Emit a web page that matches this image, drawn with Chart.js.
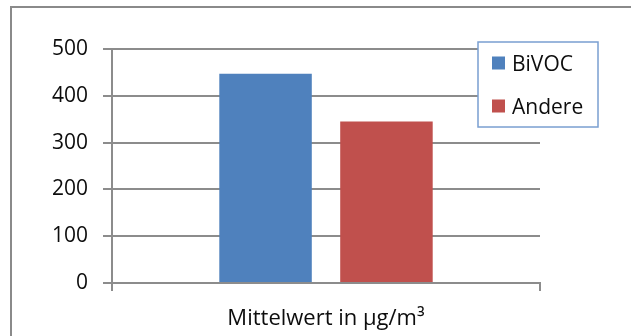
<!DOCTYPE html>
<html>
<head>
<meta charset="utf-8">
<script src="https://cdn.jsdelivr.net/npm/chart.js@4.4.1/dist/chart.umd.min.js"></script>
<style>
  html, body { margin: 0; padding: 0; background: #ffffff; }
  #wrap { position: relative; width: 631px; height: 336px; overflow: hidden; }
  canvas { display: block; }
</style>
</head>
<body>
<div id="wrap"><canvas id="c" width="631" height="336"></canvas></div>
<script>
// Mean concentrations (µg/m³)
const categories = ['Mittelwert in µg/m³'];
const seriesNames = ['BiVOC', 'Andere'];
const bivocValues = [447];
const andereValues = [345];
const yTicks = [0, 100, 200, 300, 400, 500];

const FONT = '"Open Sans", Lato, sans-serif';
const FONT_SIZE = 21;
const TEXT = '#0d0d0d';
const GRID = '#8c8c8c';

// Frame around the whole figure
const framePlugin = {
  id: 'frame',
  beforeDraw(chart) {
    const ctx = chart.ctx;
    ctx.save();
    ctx.fillStyle = '#ffffff';
    ctx.fillRect(0, 0, chart.width, chart.height);
    ctx.strokeStyle = '#8a8a8a';
    ctx.lineWidth = 2;
    ctx.strokeRect(11, 7, chart.width + 20, chart.height + 20);
    ctx.restore();
  }
};

// Boxed legend sitting over the upper right of the plot
const boxLegend = {
  id: 'boxLegend',
  afterDraw(chart) {
    const ctx = chart.ctx;
    const x = 478, y = 42, w = 120, h = 85;
    ctx.save();
    ctx.fillStyle = '#ffffff';
    ctx.fillRect(x, y, w, h);
    ctx.strokeStyle = '#7a9fd1';
    ctx.lineWidth = 1.5;
    ctx.strokeRect(x, y, w, h);
    ctx.font = FONT_SIZE + 'px ' + FONT;
    ctx.textBaseline = 'alphabetic';
    chart.data.datasets.forEach((ds, i) => {
      const cy = 63 + i * 43;
      ctx.fillStyle = ds.backgroundColor;
      ctx.fillRect(492, cy - 6.5, 13, 13);
      ctx.fillStyle = TEXT;
      ctx.fillText(ds.label, 512, cy + 7.5);
    });
    ctx.restore();
  }
};

new Chart(document.getElementById('c'), {
  type: 'bar',
  data: {
    labels: categories,
    datasets: [
      { label: seriesNames[0], data: bivocValues, backgroundColor: '#4f81bd' },
      { label: seriesNames[1], data: andereValues, backgroundColor: '#c0504d' }
    ]
  },
  options: {
    responsive: false,
    animation: false,
    devicePixelRatio: 1,
    layout: { padding: { left: 0, right: 91, top: 49, bottom: 0 } },
    categoryPercentage: 0.565,
    barPercentage: 0.765,
    plugins: { legend: { display: false }, tooltip: { enabled: false } },
    scales: {
      x: {
        offset: true,
        grid: {
          offset: true,
          drawOnChartArea: false,
          drawTicks: true,
          tickLength: 8,
          color: GRID,
          lineWidth: 2
        },
        border: { display: true, color: GRID, width: 2 },
        ticks: { color: TEXT, font: { family: FONT, size: 22 }, padding: 15 },
        afterFit(scale) { scale.height = 53; }
      },
      y: {
        min: 0,
        max: 500,
        afterBuildTicks(scale) { scale.ticks = yTicks.map(v => ({ value: v })); },
        grid: { color: GRID, lineWidth: 2, tickLength: 9 },
        border: { display: true, color: GRID, width: 2 },
        ticks: { color: TEXT, font: { family: FONT, size: FONT_SIZE }, padding: 15 },
        afterFit(scale) { scale.width = 112; }
      }
    }
  },
  plugins: [framePlugin, boxLegend]
});
</script>
</body>
</html>
